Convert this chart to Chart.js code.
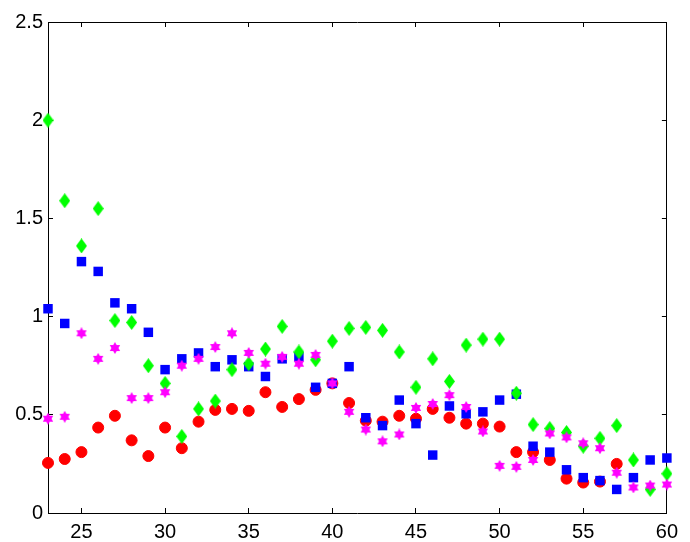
<!DOCTYPE html>
<html>
<head>
<meta charset="utf-8">
<script src="https://cdn.jsdelivr.net/npm/chart.js@4"></script>
<style>
  body { margin: 0; background: #fff; }
</style>
</head>
<body>
<canvas id="myChart" width="690" height="542"></canvas>
<script>
const xValues = [23, 24, 25, 26, 27, 28, 29, 30, 31, 32, 33, 34, 35, 36, 37, 38, 39, 40, 41,
                 42, 43, 44, 45, 46, 47, 48, 49, 50, 51, 52, 53, 54, 55, 56, 57, 58, 59, 60];

const redValues = [0.255, 0.275, 0.31, 0.435, 0.495, 0.37, 0.29, 0.435, 0.33, 0.465, 0.525, 0.53, 0.52,
                   0.615, 0.54, 0.58, 0.627, 0.66, 0.56, 0.47, 0.465, 0.495, 0.48, 0.53, 0.485, 0.455,
                   0.455, 0.44, 0.31, 0.31, 0.27, 0.175, 0.155, 0.16, 0.25, null, null, null];

const blueValues = [1.04, 0.965, 1.28, 1.23, 1.07, 1.04, 0.92, 0.73, 0.785, 0.815, 0.745, 0.78, 0.745,
                    0.695, 0.785, 0.795, 0.64, 0.66, 0.745, 0.485, 0.445, 0.575, 0.455, 0.295, 0.545,
                    0.505, 0.515, 0.575, 0.605, 0.34, 0.31, 0.22, 0.18, 0.165, 0.12, 0.18, 0.27, 0.28];

const greenValues = [2.0, 1.59, 1.36, 1.55, 0.98, 0.97, 0.75, 0.66, 0.39, 0.53, 0.57, 0.73, 0.76,
                     0.835, 0.95, 0.82, 0.78, 0.875, 0.94, 0.945, 0.93, 0.82, 0.64, 0.785, 0.67,
                     0.855, 0.885, 0.885, 0.61, 0.45, 0.43, 0.41, 0.34, 0.38, 0.445, 0.27, 0.12, 0.20];

const magentaValues = [0.48, 0.49, 0.915, 0.785, 0.84, 0.585, 0.585, 0.615, 0.75, 0.785, 0.845, 0.915,
                       0.815, 0.76, 0.795, 0.76, 0.805, 0.66, 0.515, 0.425, 0.365, 0.4, 0.535, 0.555,
                       0.6, 0.54, 0.415, 0.24, 0.235, 0.27, 0.405, 0.385, 0.355, 0.33, 0.205, 0.13,
                       0.14, 0.145];

const xTicks = [25, 30, 35, 40, 45, 50, 55, 60];
const yTicks = [0, 0.5, 1, 1.5, 2, 2.5];
const yTickLabels = ['0', '0.5', '1', '1.5', '2', '2.5'];

// marker pictures (diamond and hexagram like the matlab ones)
function makeDiamond(w, h, color) {
  const c = document.createElement('canvas');
  c.width = w; c.height = h;
  const g = c.getContext('2d');
  g.fillStyle = color;
  g.beginPath();
  g.moveTo(w / 2, 0);
  g.lineTo(w, h / 2);
  g.lineTo(w / 2, h);
  g.lineTo(0, h / 2);
  g.closePath();
  g.fill();
  return c;
}

function makeHexagram(size, color) {
  const c = document.createElement('canvas');
  c.width = size; c.height = size;
  const g = c.getContext('2d');
  const r = size / 2;
  g.fillStyle = color;
  [-Math.PI / 2, Math.PI / 2].forEach(a0 => {
    g.beginPath();
    for (let i = 0; i < 3; i++) {
      const a = a0 + i * 2 * Math.PI / 3;
      g.lineTo(r + r * Math.cos(a), r + r * Math.sin(a));
    }
    g.closePath();
    g.fill();
  });
  return c;
}

function toPoints(values) {
  return xValues.map((x, i) => ({ x: x, y: values[i] }));
}

// negative tickLength = ticks pointing into the plot, like matlab
const boxGrid = { display: true, drawOnChartArea: false, drawTicks: true, tickLength: -5, color: '#000', lineWidth: 1 };
const boxBorder = { display: true, color: '#000', width: 1 };
const labelFont = { family: 'Liberation Sans', size: 20 };

new Chart(document.getElementById('myChart'), {
  type: 'scatter',
  data: {
    datasets: [
      {
        label: 'red',
        data: toPoints(redValues),
        pointStyle: 'circle',
        pointRadius: 5.5,
        backgroundColor: '#ff0000',
        borderColor: '#ff0000',
        borderWidth: 1,
        order: 4,
        clip: false
      },
      {
        label: 'blue',
        data: toPoints(blueValues),
        pointStyle: 'rect',
        pointRadius: 6.7,
        backgroundColor: '#0000ff',
        borderColor: '#0000ff',
        borderWidth: 0,
        order: 3,
        clip: false
      },
      {
        label: 'green',
        data: toPoints(greenValues),
        pointStyle: makeDiamond(11, 15, '#00ff00'),
        backgroundColor: '#00ff00',
        borderColor: '#00ff00',
        order: 2,
        clip: false
      },
      {
        label: 'magenta',
        data: toPoints(magentaValues),
        pointStyle: makeHexagram(12, '#ff00ff'),
        backgroundColor: '#ff00ff',
        borderColor: '#ff00ff',
        order: 1,
        clip: false
      }
    ]
  },
  options: {
    responsive: false,
    animation: false,
    devicePixelRatio: 1,
    layout: { padding: { top: 20, right: 9, left: 0, bottom: 0 } },
    plugins: {
      legend: { display: false },
      tooltip: { enabled: false }
    },
    scales: {
      x: {
        type: 'linear',
        position: 'bottom',
        min: 23,
        max: 60,
        grid: boxGrid,
        border: boxBorder,
        afterBuildTicks: scale => { scale.ticks = xTicks.map(v => ({ value: v })); },
        afterFit: scale => { scale.height = 29; },
        ticks: { padding: 12, maxRotation: 0, color: '#000', font: labelFont }
      },
      x2: {
        type: 'linear',
        position: 'top',
        min: 23,
        max: 60,
        grid: boxGrid,
        border: boxBorder,
        afterBuildTicks: scale => { scale.ticks = xTicks.map(v => ({ value: v })); },
        afterFit: scale => { scale.height = 0; },
        ticks: { display: false }
      },
      y: {
        type: 'linear',
        position: 'left',
        min: 0,
        max: 2.5,
        grid: boxGrid,
        border: boxBorder,
        afterBuildTicks: scale => { scale.ticks = yTicks.map(v => ({ value: v })); },
        afterFit: scale => { scale.width = 48; },
        ticks: {
          padding: 10,
          color: '#000',
          font: labelFont,
          callback: (value, i) => yTickLabels[i]
        }
      },
      y2: {
        type: 'linear',
        position: 'right',
        min: 0,
        max: 2.5,
        grid: boxGrid,
        border: boxBorder,
        afterBuildTicks: scale => { scale.ticks = yTicks.map(v => ({ value: v })); },
        afterFit: scale => { scale.width = 0; },
        ticks: { display: false }
      }
    }
  }
});
</script>
</body>
</html>
